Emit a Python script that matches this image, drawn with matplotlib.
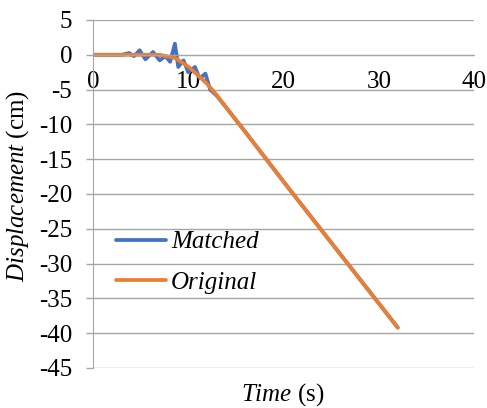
import numpy as np
import matplotlib
matplotlib.use('Agg')
import matplotlib.pyplot as plt

plt.rcParams['font.family'] = ['Liberation Serif', 'DejaVu Serif']
plt.rcParams['mathtext.fontset'] = 'custom'
plt.rcParams['mathtext.rm'] = 'Liberation Serif'
plt.rcParams['mathtext.it'] = 'Liberation Serif:italic'
plt.rcParams['axes.unicode_minus'] = False

# values
t_orig = [0, 7.0, 8.6, 10.0, 11.0, 12.0, 13.0, 14.0, 16.0, 20.5, 32.0]
d_orig = [0, 0.0, -0.45, -1.7, -2.9, -4.2, -5.8, -7.6, -11.1, -19.1, -39.2]

t_match = [0, 3.0, 3.8, 4.3, 4.9, 5.5, 6.3, 7.0, 7.6, 8.1, 8.6, 8.95, 9.5,
           10.0, 10.7, 11.2, 11.8, 12.3, 13.0, 14.0, 16.0, 20.5, 32.0]
d_match = [0, 0.0, 0.25, -0.2, 0.65, -0.65, 0.4, -0.8, -0.2, -1.0, 1.6, -1.75,
           -0.8, -2.5, -1.75, -3.4, -2.7, -5.0, -5.9, -7.6, -11.1, -19.1, -39.2]

x_ticks = [0, 10, 20, 30, 40]
y_ticks = list(range(-45, 10, 5))

fig = plt.figure(figsize=(4.87, 4.08), dpi=100)
ax = fig.add_axes([93/487, 1 - 368/408, (474 - 93)/487, (368 - 20)/408])

grey = '#A6A6A6'
ax.plot(t_match, d_match, color='#4472C4', lw=2.7, label='Matched',
        solid_capstyle='round', solid_joinstyle='round')
ax.plot(t_orig, d_orig, color='#ED7D31', lw=2.7, label='Original',
        solid_capstyle='round', solid_joinstyle='round')

ax.set_xlim(0, 40)
ax.set_ylim(-45, 5)
ax.set_xticks(x_ticks)
ax.set_yticks(y_ticks)
ax.yaxis.grid(True, color=grey, lw=1)
ax.set_axisbelow(True)

for s in ['top', 'right']:
    ax.spines[s].set_visible(False)
ax.spines['left'].set_color(grey)
ax.spines['bottom'].set_color(grey)
ax.spines['bottom'].set_position(('data', 0))
ax.tick_params(axis='y', colors=grey, labelcolor='black', labelsize=18,
               length=5, width=1, pad=10)
ax.tick_params(axis='x', length=0, labelsize=18, pad=12)

ax.set_ylabel(r'$\mathit{Displacement}$ (cm)', fontsize=18)
ax.yaxis.set_label_coords(31/487, 1 - 186/408, transform=fig.transFigure)
fig.text(283/487, 1 - 395/408, r'$\mathit{Time}$ (s)',
         fontsize=18, ha='center', va='center')

leg = ax.legend(loc='upper left', bbox_to_anchor=(116/487, 1 - 231/408),
                bbox_transform=fig.transFigure, frameon=False, fontsize=18,
                handlelength=2.0, handletextpad=0.2, labelspacing=0.7,
                borderpad=0, borderaxespad=0)
for txt in leg.get_texts():
    txt.set_fontstyle('italic')

plt.savefig('out.png', dpi=100)
